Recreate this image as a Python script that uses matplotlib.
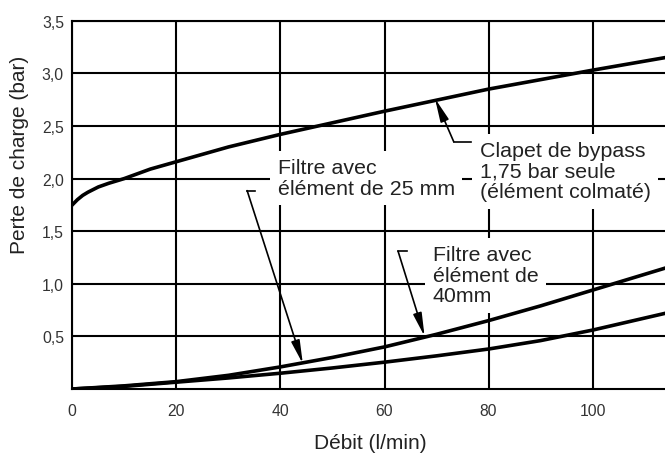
import matplotlib
matplotlib.use("Agg")
import matplotlib.pyplot as plt

# ---- data ----
debit_bypass = [0, 1, 2, 3, 5, 7, 10, 15, 20, 30, 40, 50, 60, 70, 80, 90, 100, 114]
perte_bypass = [1.75, 1.80, 1.84, 1.87, 1.92, 1.955, 2.00, 2.09, 2.16, 2.30, 2.42, 2.53,
                2.64, 2.745, 2.85, 2.94, 3.03, 3.15]

debit_filtre = [0, 10, 20, 30, 40, 50, 60, 70, 80, 90, 100, 114]
perte_filtre_40 = [0.0, 0.03, 0.07, 0.13, 0.21, 0.30, 0.40, 0.52, 0.65, 0.79, 0.94, 1.15]
perte_filtre_25 = [0.0, 0.025, 0.065, 0.105, 0.15, 0.20, 0.255, 0.315, 0.38, 0.46, 0.56, 0.72]

x_ticks = [0, 20, 40, 60, 80, 100]
x_tick_labels = ["0", "20", "40", "60", "80", "100"]
y_ticks = [0.5, 1.0, 1.5, 2.0, 2.5, 3.0, 3.5]
y_tick_labels = ["0,5", "1,0", "1,5", "2,0", "2,5", "3,0", "3,5"]

label_bypass = "Clapet de bypass\n1,75 bar seule\n(élément colmaté)"
label_25 = "Filtre avec\nélément de 25 mm"
label_40 = "Filtre avec\nélément de\n40mm"

plt.rcParams['font.family'] = ['Liberation Sans', 'DejaVu Sans']

W, H = 665, 460
fig = plt.figure(figsize=(W / 100, H / 100), dpi=100)
ax = fig.add_axes([72.3 / W, (H - 390) / H, (W - 72.3) / W, (390 - 21.7) / H])

ax.set_xlim(0, 113.9)
ax.set_ylim(0, 3.5)
ax.set_xticks(x_ticks)
ax.set_xticklabels(x_tick_labels)
ax.set_yticks(y_ticks)
ax.set_yticklabels(y_tick_labels)
ax.tick_params(length=0, labelsize=11.3, labelcolor="#333333")
ax.tick_params(axis="x", pad=10)
ax.tick_params(axis="y", pad=6)

for s in ["left", "bottom", "top"]:
    ax.spines[s].set_color("black")
    ax.spines[s].set_linewidth(1.5)
ax.spines["right"].set_visible(False)

ax.grid(True, color="black", linewidth=1.5, zorder=1)
ax.set_axisbelow(True)

lw_curve = 2.6
ax.plot(debit_bypass, perte_bypass, color="black", lw=lw_curve, zorder=4,
        solid_joinstyle="round")
ax.plot(debit_filtre, perte_filtre_40, color="black", lw=lw_curve, zorder=4,
        solid_joinstyle="round")
ax.plot(debit_filtre, perte_filtre_25, color="black", lw=lw_curve, zorder=4,
        solid_joinstyle="round")

box = dict(facecolor="white", edgecolor="none", boxstyle="square,pad=0.35")
txt_kw = dict(fontsize=15.4, color="#222222", linespacing=1.1, zorder=3, bbox=box)
ax.text(78.3, 2.07, label_bypass, ha="left", va="center", **txt_kw)
ax.text(39.5, 2.005, label_25, ha="left", va="center", **txt_kw)
ax.text(69.3, 1.08, label_40, ha="left", va="center", **txt_kw)

arrow_kw = dict(arrowstyle="-|>,head_length=0.7,head_width=0.13", color="black",
                lw=1.2, shrinkA=0, shrinkB=0, mutation_scale=20)

# bypass arrow: horizontal stub then arrow to curve
ax.plot([76.7, 73.3], [2.35, 2.35], color="black", lw=1.2, zorder=5)
ax.annotate("", xy=(69.7, 2.76), xytext=(73.3, 2.35), arrowprops=arrow_kw, zorder=5)

# 25 mm arrow
ax.plot([35.1, 33.6], [1.885, 1.885], color="black", lw=1.2, zorder=5)
ax.annotate("", xy=(44.3, 0.24), xytext=(33.6, 1.885), arrowprops=arrow_kw, zorder=5)

# 40 mm arrow
ax.plot([64.4, 62.6], [1.31, 1.31], color="black", lw=1.2, zorder=5)
ax.annotate("", xy=(67.7, 0.50), xytext=(62.6, 1.31), arrowprops=arrow_kw, zorder=5)

fig.text(20 / W, 1 - 155 / H, "Perte de charge (bar)", rotation=90, ha="center",
         va="center", fontsize=15, color="#222222")
fig.text(370 / W, 1 - 444 / H, "Débit (l/min)", ha="center", va="center",
         fontsize=15, color="#222222")

fig.savefig("out.png", dpi=100)
